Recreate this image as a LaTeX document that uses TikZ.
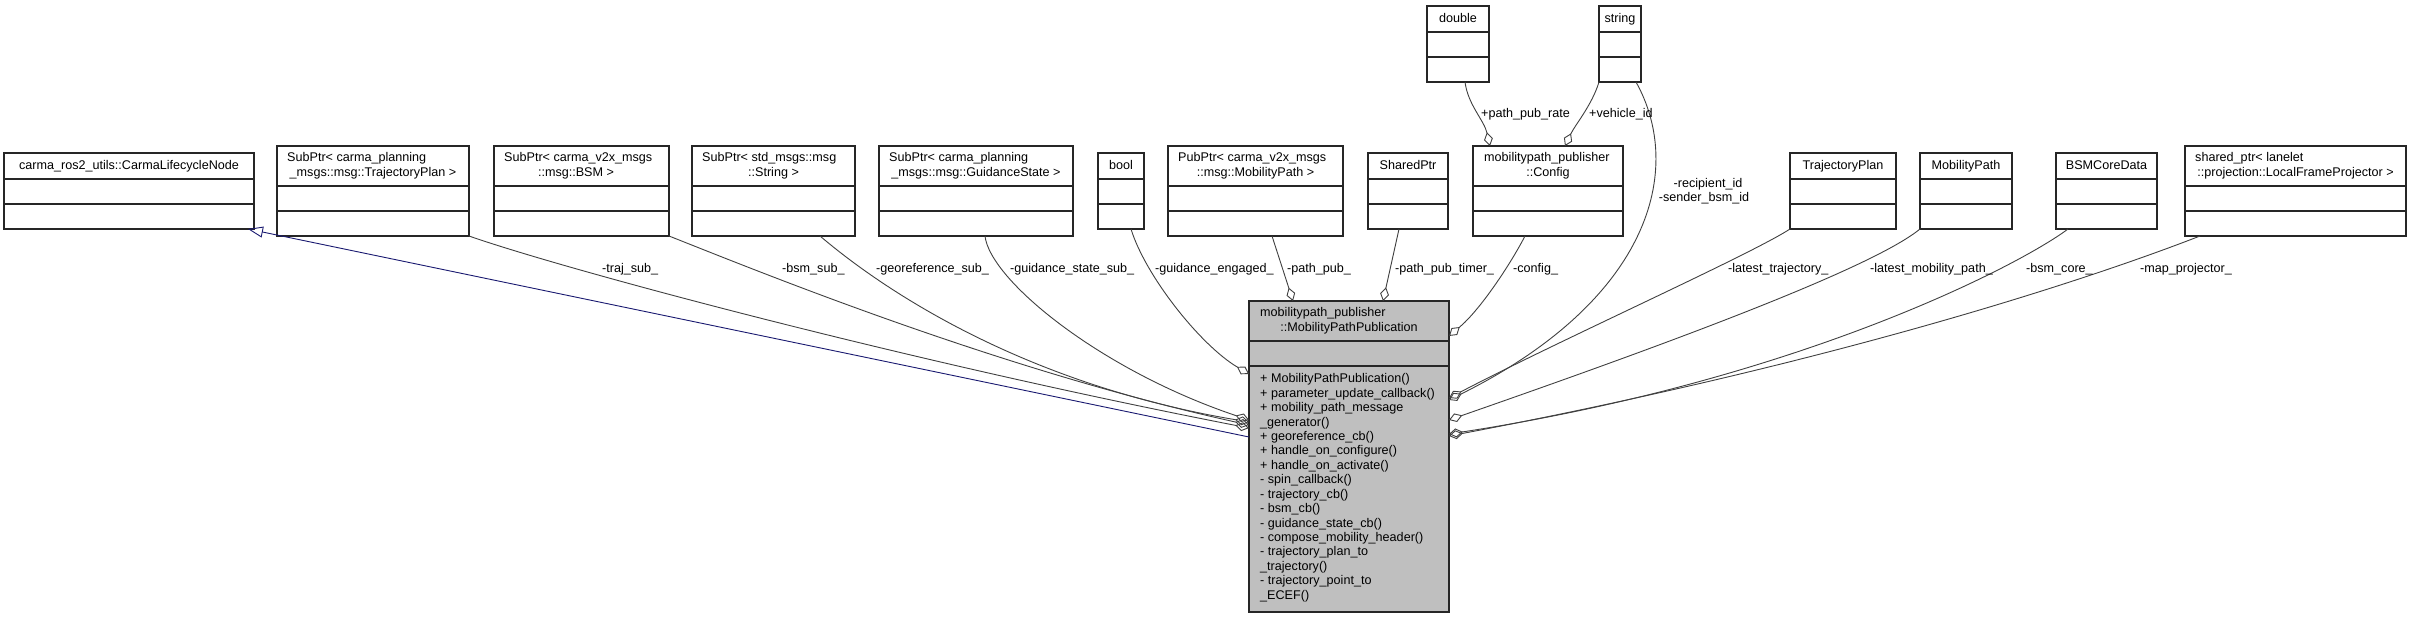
\documentclass[tikz,border=0pt]{standalone}
\usepackage{fontspec}
\setmainfont{Liberation Sans}
\usetikzlibrary{arrows.meta}
\definecolor{edgegray}{HTML}{404040}
\definecolor{inhblue}{HTML}{191970}
\definecolor{mainfill}{HTML}{BFBFBF}
\newcommand{\dgfont}{\fontsize{12.6pt}{14.4pt}\selectfont}
\newcommand{\umlbox}[8]{%
  \node[cls, fill=#8, minimum width=#4pt, minimum height={#5pt+#6pt+#7pt}] (#1) at (#2,#3) {};
  \draw[divl] ([yshift=-#5pt]#1.north west) -- ([yshift=-#5pt]#1.north east);
  \draw[divl] ([yshift=-#5pt-#6pt]#1.north west) -- ([yshift=-#5pt-#6pt]#1.north east);
}
\begin{document}
\begin{tikzpicture}[x=1pt,y=-1pt,
  cls/.style={draw=black!85, line width=1.2pt, inner sep=0pt, outer sep=0pt, anchor=north west},
  divl/.style={draw=black!85, line width=1.2pt},
  txt/.style={font=\dgfont, inner sep=0pt, text=black},
  hl/.style={txt, anchor=base west},
  hc/.style={txt, anchor=base},
  elbl/.style={txt, anchor=base west},
  agg/.style={draw=edgegray, line width=0.9pt, -{Diamond[open, length=14pt, width=9pt]}},
  inh/.style={draw=inhblue, line width=0.9pt, -{Triangle[open, length=15pt, width=11pt]}},
]
\useasboundingbox (0,0) rectangle (2413,617);

% ---------- boxes ----------
\umlbox{carma}{4}{153}{250}{26}{25}{25}{white}
\umlbox{trajsub}{277}{146}{192}{40}{25}{25}{white}
\umlbox{bsmsub}{494}{146}{175}{40}{25}{25}{white}
\umlbox{stdsub}{692}{146}{163}{40}{25}{25}{white}
\umlbox{guidsub}{879}{146}{194}{40}{25}{25}{white}
\umlbox{boolb}{1098}{153}{46}{26}{25}{25}{white}
\umlbox{pubptr}{1168}{146}{175}{40}{25}{25}{white}
\umlbox{sharedptr}{1368}{153}{80}{26}{25}{25}{white}
\umlbox{doubleb}{1427}{6}{62}{26}{25}{25}{white}
\umlbox{stringb}{1599}{6}{42}{26}{25}{25}{white}
\umlbox{config}{1473}{146}{150}{40}{25}{25}{white}
\umlbox{trajplan}{1790}{153}{106}{26}{25}{25}{white}
\umlbox{mobpath}{1920}{153}{92}{26}{25}{25}{white}
\umlbox{bsmcore}{2056}{153}{101}{26}{25}{25}{white}
\umlbox{shptr}{2185}{146}{221}{40}{25}{25}{white}
\umlbox{main}{1249}{301}{200}{40}{25}{246}{mainfill}

% ---------- header texts ----------
\node[hc] (carma-h) at (129,170) {carma\_ros2\_utils::CarmaLifecycleNode};
\node[hl] (trajsub-h1) at (287,162) {SubPtr< carma\_planning};
\node[hc] (trajsub-h2) at (373,176.4) {\_msgs::msg::TrajectoryPlan >};
\node[hl] (bsmsub-h1) at (504,162) {SubPtr< carma\_v2x\_msgs};
\node[hc] (bsmsub-h2) at (576,176.4) {::msg::BSM >};
\node[hl] (stdsub-h1) at (702,162) {SubPtr< std\_msgs::msg};
\node[hc] (stdsub-h2) at (773.5,176.4) {::String >};
\node[hl] (guidsub-h1) at (889,162) {SubPtr< carma\_planning};
\node[hc] (guidsub-h2) at (976,176.4) {\_msgs::msg::GuidanceState >};
\node[hc] (boolb-h) at (1121,170) {bool};
\node[hl] (pubptr-h1) at (1178,162) {PubPtr< carma\_v2x\_msgs};
\node[hc] (pubptr-h2) at (1255.5,176.4) {::msg::MobilityPath >};
\node[hc] (sharedptr-h) at (1408,170) {SharedPtr};
\node[hc] (doubleb-h) at (1458,23) {double};
\node[hc] (stringb-h) at (1620,23) {string};
\node[hl] (config-h1) at (1484,162) {mobilitypath\_publisher};
\node[hc] (config-h2) at (1548,176.4) {::Config};
\node[hc] (trajplan-h) at (1843,170) {TrajectoryPlan};
\node[hc] (mobpath-h) at (1966,170) {MobilityPath};
\node[hc] (bsmcore-h) at (2106.5,170) {BSMCoreData};
\node[hl] (shptr-h1) at (2195,162) {shared\_ptr< lanelet};
\node[hc] (shptr-h2) at (2295.5,176.4) {::projection::LocalFrameProjector >};
\node[hl] (main-h1) at (1260,317) {mobilitypath\_publisher};
\node[hc] (main-h2) at (1349,331.4) {::MobilityPathPublication};

% ---------- methods ----------
\foreach \t [count=\i] in {%
  + MobilityPathPublication(),
  + parameter\_update\_callback(),
  + mobility\_path\_message,
  \_generator(),
  + georeference\_cb(),
  + handle\_on\_configure(),
  + handle\_on\_activate(),
  - spin\_callback(),
  - trajectory\_cb(),
  - bsm\_cb(),
  - guidance\_state\_cb(),
  - compose\_mobility\_header(),
  - trajectory\_plan\_to,
  \_trajectory(),
  - trajectory\_point\_to,
  \_ECEF()}
  \node[hl] (m\i) at (1260,368.6+\i*14.4) {\t};

% ---------- connectors ----------
\draw[inh] ([yshift=-136pt]main.north west) -- ([xshift=-6pt]carma.south east);

\draw[agg] (trajsub.south east) .. controls (560,268) and (900,360) .. ([yshift=-127pt]main.north west);
\draw[agg] (bsmsub.south east) .. controls (760,272) and (1000,370) .. ([yshift=-124pt]main.north west);
\draw[agg] ([xshift=128pt]stdsub.south west) .. controls (860,270) and (1000,380) .. ([yshift=-121pt]main.north west);
\draw[agg] ([xshift=106pt]guidsub.south west) .. controls (990,280) and (1100,370) .. ([yshift=-119pt]main.north west);
\draw[agg] ([xshift=33pt]boolb.south west) .. controls (1145,275) and (1200,345) .. ([yshift=-73pt]main.north west);
\draw[agg] ([xshift=104pt]pubptr.south west) -- ([xshift=44pt]main.north west);
\draw[agg] ([xshift=31pt]sharedptr.south west) -- ([xshift=134pt]main.north west);
\draw[agg] ([xshift=52pt]config.south west) .. controls (1510,265) and (1480,310) .. ([yshift=-35pt]main.north east);
\draw[agg] ([xshift=38pt]doubleb.south west) .. controls (1468,105) and (1484,120) .. ([xshift=17pt]config.north west);
\draw[agg] (stringb.south west) .. controls (1592,105) and (1575,125) .. ([xshift=92pt]config.north west);
\draw[agg] ([xshift=-5pt]stringb.south east) .. controls (1685,170) and (1650,300) .. ([yshift=-99pt]main.north east);
\draw[agg] (trajplan.south west) .. controls (1750,255) and (1560,340) .. ([yshift=-97pt]main.north east);
\draw[agg] (mobpath.south west) .. controls (1870,270) and (1650,350) .. ([yshift=-119pt]main.north east);
\draw[agg] ([xshift=12pt]bsmcore.south west) .. controls (2020,265) and (1800,380) .. ([yshift=-133pt]main.north east);
\draw[agg] ([xshift=15pt]shptr.south west) .. controls (2100,275) and (1850,360) .. ([yshift=-135pt]main.north east);

% ---------- connector labels ----------
\node[elbl] (l-traj) at (602,272.5) {-traj\_sub\_};
\node[elbl] (l-bsm) at (782,272.5) {-bsm\_sub\_};
\node[elbl] (l-geo) at (876,272.5) {-georeference\_sub\_};
\node[elbl] (l-gss) at (1010,272.5) {-guidance\_state\_sub\_};
\node[elbl] (l-ge) at (1155,272.5) {-guidance\_engaged\_};
\node[elbl] (l-pp) at (1287,272.5) {-path\_pub\_};
\node[elbl] (l-ppt) at (1395,272.5) {-path\_pub\_timer\_};
\node[elbl] (l-cfg) at (1513,272.5) {-config\_};
\node[elbl] (l-lt) at (1728,272.5) {-latest\_trajectory\_};
\node[elbl] (l-lmp) at (1870,272.5) {-latest\_mobility\_path\_};
\node[elbl] (l-bc) at (2026,272.5) {-bsm\_core\_};
\node[elbl] (l-mp) at (2140,272.5) {-map\_projector\_};
\node[elbl] (l-ppr) at (1481,117.5) {+path\_pub\_rate};
\node[elbl] (l-vid) at (1589,117.5) {+vehicle\_id};
\node[hc] (l-rid) at (1708,187.5) {-recipient\_id};
\node[hc] (l-sid) at (1704,201.9) {-sender\_bsm\_id};
\end{tikzpicture}
\end{document}
